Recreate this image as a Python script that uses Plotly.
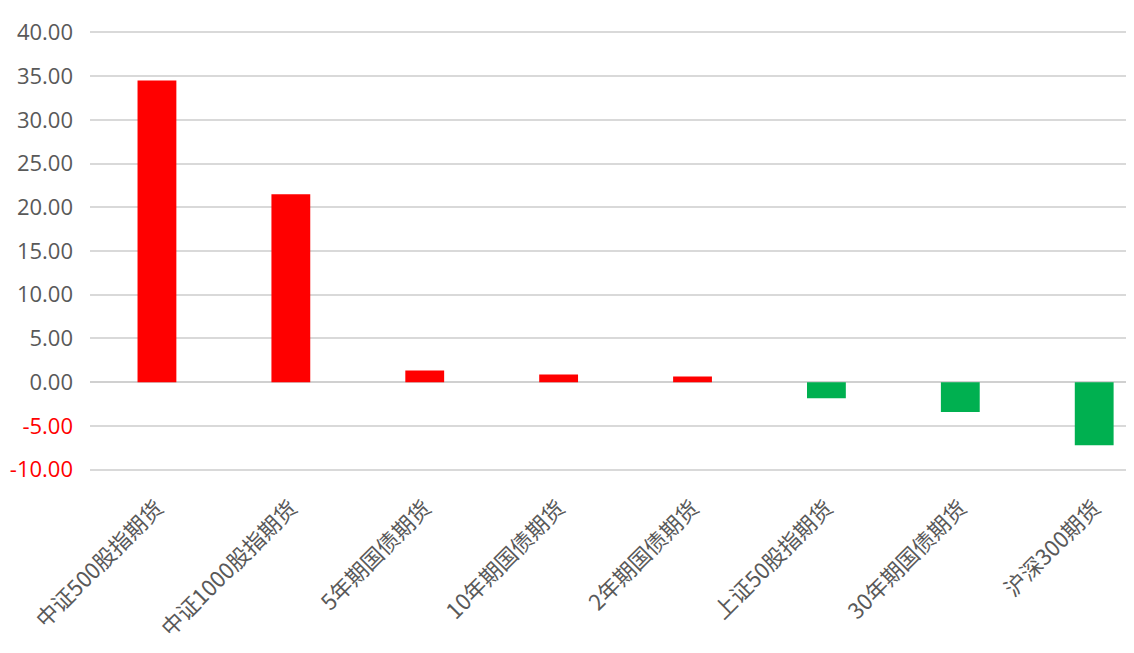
import plotly.graph_objects as go

categories = ["中证500股指期货", "中证1000股指期货", "5年期国债期货", "10年期国债期货",
              "2年期国债期货", "上证50股指期货", "30年期国债期货", "沪深300期货"]
values = [34.5, 21.5, 1.34, 0.88, 0.65, -1.83, -3.4, -7.2]
tick_values = [-10, -5, 0, 5, 10, 15, 20, 25, 30, 35, 40]

colors = ["#FF0000" if v >= 0 else "#00B050" for v in values]
tick_text = [(f"<span style='color:#FF0000'>{t:.2f}</span>" if t < 0 else f"{t:.2f}") for t in tick_values]

fig = go.Figure(go.Bar(x=categories, y=values, marker=dict(color=colors, line=dict(width=0)),
                       width=0.29))

fig.update_layout(
    width=1134, height=653,
    margin=dict(l=82, r=0, t=20, b=187),
    paper_bgcolor="white", plot_bgcolor="white",
    showlegend=False,
    font=dict(family="Liberation Sans, Noto Sans CJK SC", color="#595959", size=20),
)
fig.update_yaxes(range=[-10.5, 40.5], tickvals=tick_values, ticktext=tick_text,
                 automargin=False,
                 showgrid=True, gridcolor="#D9D9D9", gridwidth=2,
                 zeroline=True, zerolinecolor="#D0D0D0", zerolinewidth=2,
                 showline=False, ticks="", ticklabelstandoff=16,
                 tickfont=dict(family="Open Sans, Liberation Sans", size=22, color="#595959"))
fig.update_xaxes(range=[-0.5, 7.357], tickangle=-45, showgrid=False, showline=False,
                 automargin=False,
                 ticks="", ticklabelstandoff=16,
                 tickfont=dict(family="Noto Sans CJK SC", size=22, color="#595959"))

fig.write_html("out.html")
